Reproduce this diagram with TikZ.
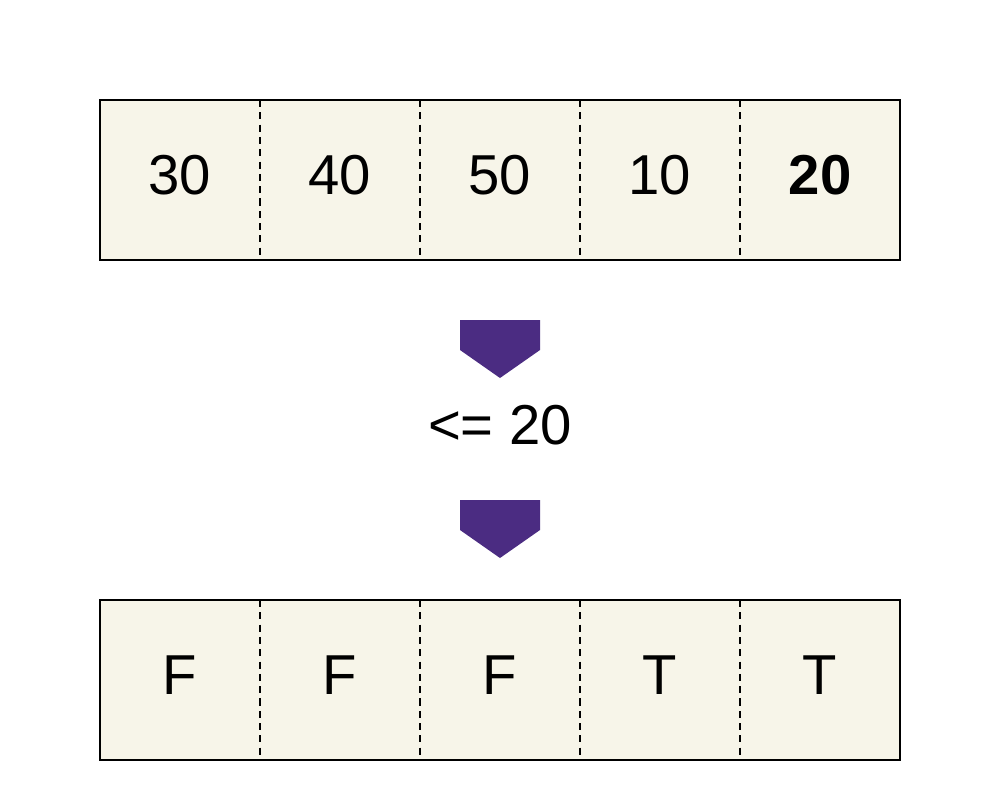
\documentclass[tikz,border=0pt]{standalone}
\usepackage{fontspec}
\setmainfont{Liberation Sans}
\definecolor{cellbg}{HTML}{F7F5E9}
\definecolor{arr}{HTML}{4B2C82}
\begin{document}
\begin{tikzpicture}[x=0.01cm,y=-0.01cm,
  cell/.style={minimum width=1.6cm,minimum height=1.6cm,inner sep=0pt,font=\fontsize{16}{18}\selectfont},
  sep/.style={dashed,dash pattern=on 2pt off 1.5pt,line width=0.5pt},
  box/.style={fill=cellbg,draw=black,line width=0.6pt},
  pent/.style={fill=arr,draw=none}]
\useasboundingbox (0,0) rectangle (1000,800);
\draw[box] (100,100) rectangle (900,260);
\draw[box] (100,600) rectangle (900,760);
\foreach \i in {1,...,4}{
  \draw[sep] (100+160*\i,100) -- (100+160*\i,260);
  \draw[sep] (100+160*\i,600) -- (100+160*\i,760);
}
\node[cell] (a1) at (180,175) {30};
\node[cell] (a2) at (340,175) {40};
\node[cell] (a3) at (500,175) {50};
\node[cell] (a4) at (660,175) {10};
\node[cell,font=\fontsize{16}{18}\selectfont\bfseries] (a5) at (820,175) {20};
\node[cell] (b1) at (180,675) {F};
\node[cell] (b2) at (340,675) {F};
\node[cell] (b3) at (500,675) {F};
\node[cell] (b4) at (660,675) {T};
\node[cell] (b5) at (820,675) {T};
\fill[pent] (460,320) -- (540,320) -- (540,350) -- (500,378) -- (460,350) -- cycle;
\node[font=\fontsize{16}{18}\selectfont] (op) at (500,425) {<= 20};
\fill[pent] (460,500) -- (540,500) -- (540,530) -- (500,558) -- (460,530) -- cycle;
\end{tikzpicture}
\end{document}
